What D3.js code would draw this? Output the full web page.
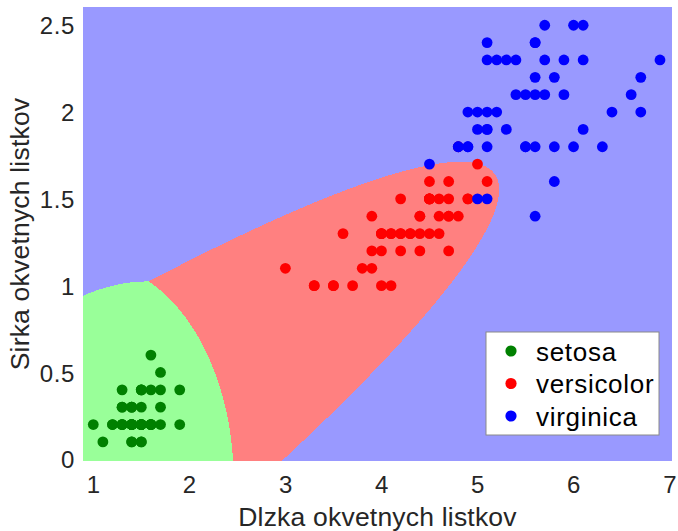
<!DOCTYPE html>
<html>
<head>
<meta charset="utf-8">
<script src="https://cdn.jsdelivr.net/npm/d3@7"></script>
<style>
  body { margin: 0; background: #fff; }
  text { font-family: "Liberation Sans", Arial, Helvetica, sans-serif; fill: #262626; }
</style>
</head>
<body>
<svg id="chart"></svg>
<script>
var width = 678;
var height = 531;

var margin = {top: 7, left: 83, right: 6, bottom: 70};

// iris petal measurements (dlzka = length, sirka = width)
var species = ["setosa", "versicolor", "virginica"];

var setosaDlzka = [1.4,1.4,1.3,1.5,1.4,1.7,1.4,1.5,1.4,1.5,1.5,1.6,1.4,1.1,1.2,1.5,1.3,1.4,1.7,1.5,
                   1.7,1.5,1.0,1.7,1.9,1.6,1.6,1.5,1.4,1.6,1.6,1.5,1.5,1.4,1.5,1.2,1.3,1.4,1.3,1.5,
                   1.3,1.3,1.3,1.6,1.9,1.4,1.6,1.4,1.5,1.4];
var setosaSirka = [0.2,0.2,0.2,0.2,0.2,0.4,0.3,0.2,0.2,0.1,0.2,0.2,0.1,0.1,0.2,0.4,0.4,0.3,0.3,0.3,
                   0.2,0.4,0.2,0.5,0.2,0.2,0.4,0.2,0.2,0.2,0.2,0.4,0.1,0.2,0.2,0.2,0.2,0.1,0.2,0.2,
                   0.3,0.3,0.2,0.6,0.4,0.3,0.2,0.2,0.2,0.2];

var versicolorDlzka = [4.7,4.5,4.9,4.0,4.6,4.5,4.7,3.3,4.6,3.9,3.5,4.2,4.0,4.7,3.6,4.4,4.5,4.1,4.5,3.9,
                       4.8,4.0,4.9,4.7,4.3,4.4,4.8,5.0,4.5,3.5,3.8,3.7,3.9,5.1,4.5,4.5,4.7,4.4,4.1,4.0,
                       4.4,4.6,4.0,3.3,4.2,4.2,4.2,4.3,3.0,4.1];
var versicolorSirka = [1.4,1.5,1.5,1.3,1.5,1.3,1.6,1.0,1.3,1.4,1.0,1.5,1.0,1.4,1.3,1.4,1.5,1.0,1.5,1.1,
                       1.8,1.3,1.5,1.2,1.3,1.4,1.4,1.7,1.5,1.0,1.1,1.0,1.2,1.6,1.5,1.6,1.5,1.3,1.3,1.3,
                       1.2,1.4,1.2,1.0,1.3,1.2,1.3,1.3,1.1,1.3];

var virginicaDlzka = [6.0,5.1,5.9,5.6,5.8,6.6,4.5,6.3,5.8,6.1,5.1,5.3,5.5,5.0,5.1,5.3,5.5,6.7,6.9,5.0,
                      5.7,4.9,6.7,4.9,5.7,6.0,4.8,4.9,5.6,5.8,6.1,6.4,5.6,5.1,5.6,6.1,5.6,5.5,4.8,5.4,
                      5.6,5.1,5.1,5.9,5.7,5.2,5.0,5.2,5.4,5.1];
var virginicaSirka = [2.5,1.9,2.1,1.8,2.2,2.1,1.7,1.8,1.8,2.5,2.0,1.9,2.1,2.0,2.4,2.3,1.8,2.2,2.3,1.5,
                      2.3,2.0,2.0,1.8,2.1,1.8,1.8,1.8,2.1,1.6,1.9,2.0,2.2,1.5,1.4,2.3,2.4,1.8,1.8,2.1,
                      2.4,2.3,1.9,2.3,2.5,2.3,1.9,2.0,2.3,1.8];

var xTicks = [1, 2, 3, 4, 5, 6, 7];
var yTicks = [0, 0.5, 1, 1.5, 2, 2.5];

var pointColors = ["#008000", "#ff0000", "#0000ff"];
var regionColors = ["#99ff99", "#ff8080", "#9999ff"];

var groups = [
  {name: species[0], x: setosaDlzka, y: setosaSirka},
  {name: species[1], x: versicolorDlzka, y: versicolorSirka},
  {name: species[2], x: virginicaDlzka, y: virginicaSirka}
];

var svg = d3.select("#chart").attr("width", width).attr("height", height);

var xScale = d3.scaleLinear()
  .domain([0.893, 7.025])
  .range([margin.left, width - margin.right]);

var yScale = d3.scaleLinear()
  .domain([-0.01, 2.605])
  .range([height - margin.bottom, margin.top]);

// quadratic discriminant fit per class
groups.forEach(function(g) {
  var n = g.x.length;
  var mx = d3.mean(g.x), my = d3.mean(g.y);
  var sxx = 0, syy = 0, sxy = 0;
  for (var i = 0; i < n; i++) {
    sxx += (g.x[i] - mx) * (g.x[i] - mx);
    syy += (g.y[i] - my) * (g.y[i] - my);
    sxy += (g.x[i] - mx) * (g.y[i] - my);
  }
  sxx /= n - 1; syy /= n - 1; sxy /= n - 1;
  var det = sxx * syy - sxy * sxy;
  g.score = function(a, b) {
    var dx = a - mx, dy = b - my;
    return (syy * dx * dx - 2 * sxy * dx * dy + sxx * dy * dy) / det + Math.log(det);
  };
});

// background regions, one canvas pixel per screen pixel
var pw = width - margin.left - margin.right;
var ph = height - margin.top - margin.bottom;
var canvas = document.createElement("canvas");
canvas.width = pw;
canvas.height = ph;
var ctx = canvas.getContext("2d");
var img = ctx.createImageData(pw, ph);
var rgb = regionColors.map(function(c) { return d3.rgb(c); });
for (var py = 0; py < ph; py++) {
  var b = yScale.invert(margin.top + py + 0.5);
  for (var px = 0; px < pw; px++) {
    var a = xScale.invert(margin.left + px + 0.5);
    var best = 0, bestScore = Infinity;
    groups.forEach(function(g, k) {
      var s = g.score(a, b);
      if (s < bestScore) { bestScore = s; best = k; }
    });
    var o = (py * pw + px) * 4;
    img.data[o] = rgb[best].r;
    img.data[o + 1] = rgb[best].g;
    img.data[o + 2] = rgb[best].b;
    img.data[o + 3] = 255;
  }
}
ctx.putImageData(img, 0, 0);

svg.append("image")
  .attr("x", margin.left)
  .attr("y", margin.top)
  .attr("width", pw)
  .attr("height", ph)
  .attr("href", canvas.toDataURL());

// points
groups.forEach(function(g, k) {
  svg.append("g").selectAll("circle")
    .data(d3.range(g.x.length))
    .enter()
    .append("circle")
    .attr("cx", function(i) { return xScale(g.x[i]); })
    .attr("cy", function(i) { return yScale(g.y[i]); })
    .attr("r", 5.4)
    .attr("fill", pointColors[k]);
});

// axes
var xAxis = svg.append("g")
  .attr("transform", `translate(0, ${height - margin.bottom})`)
  .call(d3.axisBottom(xScale).tickValues(xTicks).tickSize(0).tickPadding(15).tickFormat(d3.format("d")));

var yAxis = svg.append("g")
  .attr("transform", `translate(${margin.left},0)`)
  .call(d3.axisLeft(yScale).tickValues(yTicks).tickSize(0).tickPadding(8).tickFormat(function(d) { return String(d); }));

svg.selectAll(".domain").remove();
svg.selectAll(".tick text")
  .attr("font-size", 24)
  .attr("font-family", null)
  .style("letter-spacing", "0.6px")
  .style("fill", "#262626");
xAxis.selectAll(".tick text").attr("dy", "0.71em");
yAxis.selectAll(".tick text").attr("dy", "0.36em");

svg.append("text")
  .attr("x", (margin.left + width - margin.right) / 2)
  .attr("y", 526)
  .attr("text-anchor", "middle")
  .attr("font-size", 26.5)
  .style("letter-spacing", "0.2px")
  .text("Dlzka okvetnych listkov");

svg.append("text")
  .attr("transform", `translate(29, ${(margin.top + height - margin.bottom) / 2}) rotate(-90)`)
  .attr("text-anchor", "middle")
  .attr("font-size", 26.5)
  .style("letter-spacing", "0.2px")
  .text("Sirka okvetnych listkov");

// legend
var legend = svg.append("g").attr("transform", "translate(486, 332)");
legend.append("rect")
  .attr("width", 173)
  .attr("height", 103)
  .attr("fill", "#fff")
  .attr("stroke", "#8a8a8a")
  .attr("stroke-width", 1);

var item = legend.selectAll(".item")
  .data(species)
  .enter()
  .append("g")
  .attr("transform", function(d, i) { return `translate(0, ${19 + i * 32.5})`; });

item.append("circle")
  .attr("cx", 25)
  .attr("cy", 0)
  .attr("r", 5.6)
  .attr("fill", function(d, i) { return pointColors[i]; });

item.append("text")
  .attr("x", 50)
  .attr("y", 0)
  .attr("dy", "0.38em")
  .attr("font-size", 26)
  .style("letter-spacing", "0.7px")
  .style("fill", "#000")
  .text(function(d) { return d; });
</script>
</body>
</html>
